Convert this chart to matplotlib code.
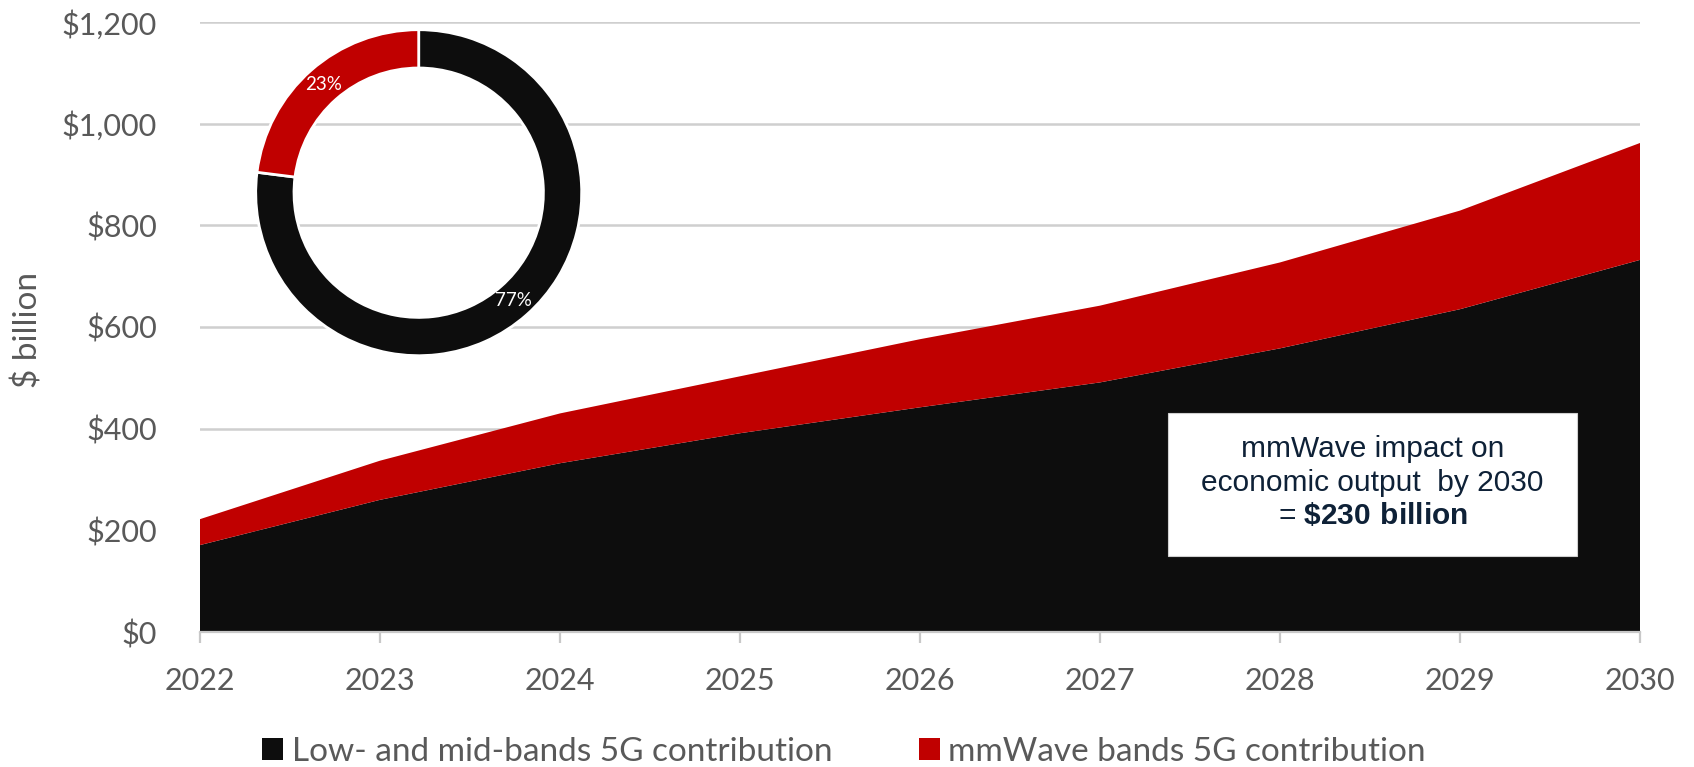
import matplotlib.pyplot as plt
from matplotlib.patches import Rectangle, Patch
from matplotlib.ticker import FuncFormatter

# Data ($ billion)
years = [2022, 2023, 2024, 2025, 2026, 2027, 2028, 2029, 2030]
low_mid = [171, 260, 332, 391, 442, 491, 558, 635, 732]
mmwave = [51, 77, 98, 112, 134, 151, 169, 194, 230]
series_labels = ['Low- and mid-bands 5G contribution', 'mmWave bands 5G contribution']

# 2030 share shown in the donut
share_values = [77, 23]

BLACK = '#0d0d0d'
RED = '#c00000'
GREY_TXT = '#595959'
GRID = '#cfcfcf'

plt.rcParams['font.family'] = ['Lato', 'DejaVu Sans']
plt.rcParams['mathtext.fontset'] = 'custom'
plt.rcParams['mathtext.rm'] = 'Liberation Sans'
plt.rcParams['mathtext.bf'] = 'Liberation Sans:bold'

W, H = 1694, 767
fig = plt.figure(figsize=(W / 100, H / 100), dpi=100)

# main area chart
ax = fig.add_axes([200 / W, 1 - 632 / H, 1440 / W, 610 / H])
ax.stackplot(years, low_mid, mmwave, colors=[BLACK, RED], linewidth=0, zorder=2)
ax.set_xlim(years[0], years[-1])
ax.set_ylim(0, 1200)
ax.set_yticks(range(0, 1201, 200))
ax.set_xticks(years)
ax.yaxis.set_major_formatter(FuncFormatter(lambda v, p: f'${v:,.0f}'))
ax.grid(axis='y', color=GRID, linewidth=1.8, zorder=0)
ax.set_axisbelow(True)
for s in ['top', 'right', 'left']:
    ax.spines[s].set_visible(False)
ax.spines['bottom'].set_color('#c8c8c8')
ax.spines['bottom'].set_linewidth(1.6)
ax.spines['bottom'].set_zorder(3)
ax.tick_params(axis='y', length=0, pad=31, labelsize=22, labelcolor=GREY_TXT)
ax.tick_params(axis='x', length=8, width=1.6, color='#c8c8c8', direction='out',
               pad=17, labelsize=22, labelcolor=GREY_TXT)

fig.text(28 / W, 1 - 330 / H, '$ billion', rotation=90, ha='center', va='center',
         fontsize=24, color=GREY_TXT)

# callout box
ax.add_patch(Rectangle((0.672, 0.1246), 0.2843, 0.2344, transform=ax.transAxes,
                       facecolor='white', edgecolor='#d0d0d0', linewidth=0.8, zorder=4))
ax.text(0.8143, 0.245, 'mmWave impact on\neconomic output  by 2030\n= $\\mathbf{\\$230\\ billion}$',
        transform=ax.transAxes, ha='center', va='center', multialignment='center',
        fontsize=21.5, family='Liberation Sans', color='#0e2137', linespacing=1.25, zorder=5)

# donut inset
axp = fig.add_axes([255.7 / W, 1 - 355.7 / H, 326 / W, 326 / H])
axp.set_facecolor('white')
axp.pie(share_values, colors=[BLACK, RED], startangle=90, counterclock=False,
        radius=1, autopct='%1.0f%%', pctdistance=0.883,
        wedgeprops=dict(width=0.235, edgecolor='white', linewidth=2),
        textprops=dict(color='white', fontsize=13.5))
axp.set_xlim(-1, 1)
axp.set_ylim(-1, 1)
axp.set_xticks([])
axp.set_yticks([])
for s in axp.spines.values():
    s.set_visible(False)

# legend
handles = [Patch(facecolor=BLACK), Patch(facecolor=RED)]
fig.legend(handles, series_labels, loc='center', bbox_to_anchor=(844 / W, 1 - 752 / H),
           ncol=2, frameon=False, fontsize=24, labelcolor=GREY_TXT,
           handlelength=0.63, handleheight=0.63, handletextpad=0.25, columnspacing=2.6)

fig.savefig('out.png', dpi=100)
